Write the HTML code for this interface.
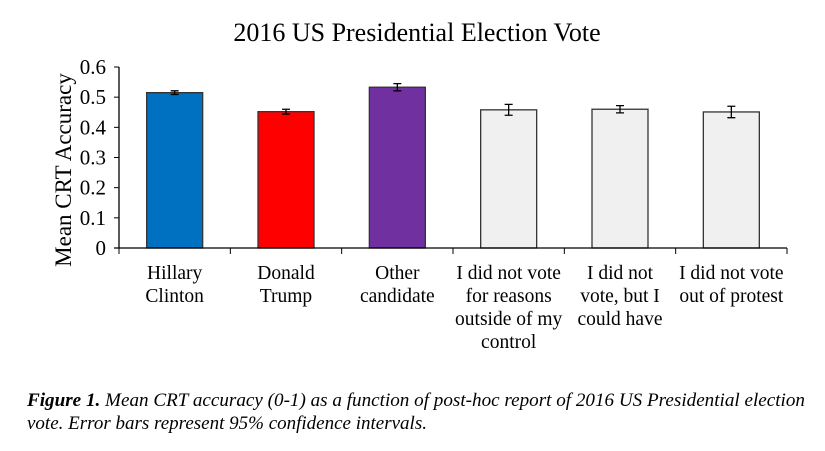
<!DOCTYPE html>
<html><head><meta charset="utf-8"><style>
body{margin:0;background:#fff;width:825px;height:446px;overflow:hidden;font-family:"Liberation Serif",serif}
svg text{font-family:"Liberation Serif",serif;fill:#000}
</style></head><body>
<svg width="825" height="446">
<text x="417" y="41" font-size="26" text-anchor="middle">2016 US Presidential Election Vote</text>
<text transform="translate(71,170) rotate(-90)" font-size="23" text-anchor="middle">Mean CRT Accuracy</text>
<g id="plot"></g>
<text x="27" y="406" font-size="19" font-style="italic" textLength="778" lengthAdjust="spacingAndGlyphs"><tspan font-weight="bold">Figure 1.</tspan> Mean CRT accuracy (0-1) as a function of post-hoc report of 2016 US Presidential election</text>
<text x="27" y="429" font-size="19" font-style="italic">vote. Error bars represent 95% confidence intervals.</text>
</svg>
<script>
const categories=[["Hillary","Clinton"],["Donald","Trump"],["Other","candidate"],["I did not vote","for reasons","outside of my","control"],["I did not","vote, but I","could have"],["I did not vote","out of protest"]];
const values=[0.515,0.452,0.533,0.458,0.460,0.451];
const errors=[0.006,0.008,0.012,0.018,0.012,0.019];
const colors=["#0070c0","#ff0000","#7030a0","#f0f0f0","#f0f0f0","#f0f0f0"];
const ticks=[0,0.1,0.2,0.3,0.4,0.5,0.6];
const tickLabels=["0","0.1","0.2","0.3","0.4","0.5","0.6"];
const NS="http://www.w3.org/2000/svg",g=document.getElementById("plot");
const x0=119,x1=787,y0=248,yTop=67,cw=(x1-x0)/categories.length;
const y=v=>y0-(v/0.6)*(y0-yTop);
function mk(t,a){const e=document.createElementNS(NS,t);for(const k in a)e.setAttribute(k,a[k]);g.appendChild(e);return e;}
let ax=mk("line",{x1:x0,y1:yTop,x2:x0,y2:y0,stroke:"#000","stroke-width":1.3});


ticks.forEach((t,i)=>{
 let l=mk("line",{x1:x0-5,x2:x0,y1:y(t),y2:y(t),stroke:"#000"});
 
 
 let tx=mk("text",{x:x0-13,y:y(t)+7,"font-size":21,"text-anchor":"end"});tx.textContent=tickLabels[i];
 
 
});
values.forEach((v,i)=>{
 const cx=x0+cw*(i+0.5),bw=56;
 let r=mk("rect",{x:cx-bw/2,y:y(v),width:bw,height:y0-y(v),fill:colors[i],stroke:"#333","stroke-width":1.3});
 
 
 const e=errors[i];
 let eb=mk("path",{d:`M${cx},${y(v+e)}V${y(v-e)}M${cx-4},${y(v+e)}H${cx+4}M${cx-4},${y(v-e)}H${cx+4}`,stroke:"#000","stroke-width":1.3,fill:"none"});
 
 
 categories[i].forEach((s,j)=>{
  let t=mk("text",{x:cx,y:279+j*23,"font-size":19.5,"text-anchor":"middle"});t.textContent=s;
  
  
 });
});
for(let i=0;i<=categories.length;i++){
 let l=mk("line",{x1:x0+cw*i,x2:x0+cw*i,y1:y0,y2:y0+6,stroke:"#000"});
 
 
}
let xa=mk("line",{x1:x0-5,y1:y0,x2:x1,y2:y0,stroke:"#000","stroke-width":1.3});


</script>
</body></html>
